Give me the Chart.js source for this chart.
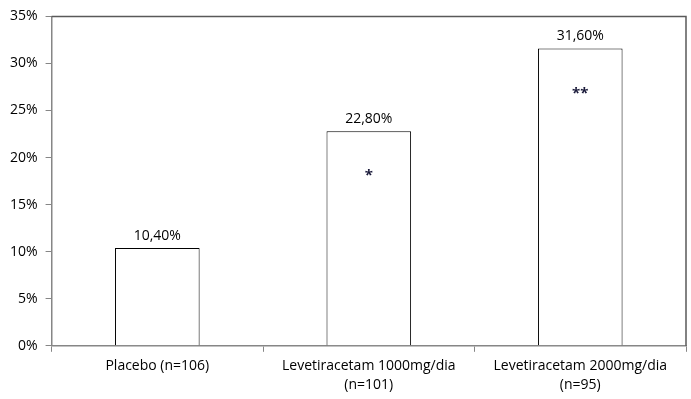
<!DOCTYPE html>
<html lang="pt">
<head>
    <meta charset="UTF-8">
    <title>Levetiracetam</title>
    <script src="https://cdn.jsdelivr.net/npm/chart.js@4/dist/chart.umd.min.js"></script>
    <style>
        body { margin: 0; background: #fff; }
        .wrap { width: 691px; height: 399px; }
    </style>
</head>
<body>
    <div class="wrap"><canvas id="c"></canvas></div>
    <script>
        const categories = [['Placebo (n=106)'], ['Levetiracetam 1000mg/dia', '(n=101)'], ['Levetiracetam 2000mg/dia', '(n=95)']];
        const values = [10.4, 22.8, 31.6];
        const valueLabels = ['10,40%', '22,80%', '31,60%'];
        const marks = ['', '*', '**'];

        const FONT = '"Open Sans", Lato, sans-serif';

        // rótulos acima das barras e asteriscos dentro
        const barLabels = {
            id: 'barLabels',
            afterDatasetsDraw(chart) {
                const ctx = chart.ctx;
                const meta = chart.getDatasetMeta(0);
                ctx.save();
                ctx.fillStyle = '#000';
                ctx.textAlign = 'center';
                meta.data.forEach((bar, i) => {
                    ctx.font = '14px ' + FONT;
                    ctx.textBaseline = 'bottom';
                    ctx.fillText(valueLabels[i], bar.x, bar.y - 5);
                    if (marks[i]) {
                        ctx.font = 'bold 15px ' + FONT;
                        ctx.fillStyle = '#1a1a3a';
                        ctx.textBaseline = 'middle';
                        ctx.fillText(marks[i], bar.x, bar.y + 45);
                        ctx.fillStyle = '#000';
                    }
                });
                ctx.restore();
            }
        };

        // borda superior e direita da área do gráfico
        const frame = {
            id: 'frame',
            afterDraw(chart) {
                const a = chart.chartArea;
                const ctx = chart.ctx;
                ctx.save();
                ctx.strokeStyle = '#595959';
                ctx.lineWidth = 1.5;
                ctx.beginPath();
                ctx.moveTo(a.left, a.top);
                ctx.lineTo(a.right, a.top);
                ctx.lineTo(a.right, a.bottom);
                ctx.stroke();
                ctx.restore();
            }
        };

        new Chart(document.getElementById('c'), {
            type: 'bar',
            data: {
                labels: categories,
                datasets: [{
                    data: values,
                    backgroundColor: '#fff',
                    borderColor: '#000',
                    borderWidth: 1,
                    categoryPercentage: 0.4,
                    barPercentage: 1
                }]
            },
            options: {
                responsive: true,
                maintainAspectRatio: false,
                animation: false,
                layout: { padding: { top: 8, right: 5, left: 2, bottom: 0 } },
                plugins: {
                    legend: { display: false },
                    tooltip: { enabled: false }
                },
                scales: {
                    x: {
                        grid: { drawOnChartArea: false, offset: true, tickLength: 6, color: '#868686' },
                        border: { color: '#868686', width: 1.5 },
                        ticks: { color: '#000', font: { family: FONT, size: 14, lineHeight: 1.4 }, padding: 4, maxRotation: 0 }
                    },
                    y: {
                        min: 0,
                        max: 35,
                        grid: { drawOnChartArea: false, tickLength: 6, color: '#868686' },
                        border: { color: '#868686', width: 1.5 },
                        ticks: {
                            stepSize: 5,
                            color: '#000',
                            padding: 8,
                            font: { family: FONT, size: 14 },
                            callback: v => v + '%'
                        }
                    }
                }
            },
            plugins: [barLabels, frame]
        });
    </script>
</body>
</html>
